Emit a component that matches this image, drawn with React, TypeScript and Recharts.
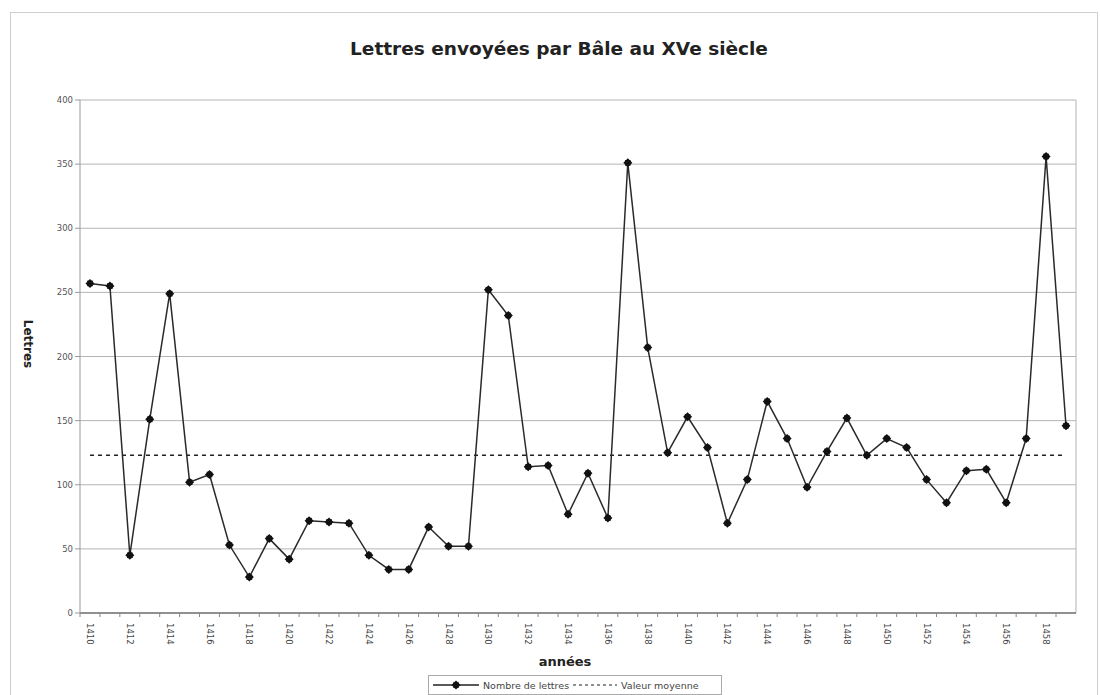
import { LineChart, Line, XAxis, YAxis, CartesianGrid } from "recharts";

// Letters sent per year, 1410-1459
const years: number[] = [
  1410, 1411, 1412, 1413, 1414, 1415, 1416, 1417, 1418, 1419,
  1420, 1421, 1422, 1423, 1424, 1425, 1426, 1427, 1428, 1429,
  1430, 1431, 1432, 1433, 1434, 1435, 1436, 1437, 1438, 1439,
  1440, 1441, 1442, 1443, 1444, 1445, 1446, 1447, 1448, 1449,
  1450, 1451, 1452, 1453, 1454, 1455, 1456, 1457, 1458, 1459,
];

const letters: number[] = [
  257, 255, 45, 151, 249, 102, 108, 53, 28, 58,
  42, 72, 71, 70, 45, 34, 34, 67, 52, 52,
  252, 232, 114, 115, 77, 109, 74, 351, 207, 125,
  153, 129, 70, 104, 165, 136, 98, 126, 152, 123,
  136, 129, 104, 86, 111, 112, 86, 136, 356, 146,
];

const meanValue = 123;

const yTicks: number[] = [0, 50, 100, 150, 200, 250, 300, 350, 400];

const data = years.map((year, i) => ({
  year,
  lettres: letters[i],
  moyenne: meanValue,
}));

const FONT = "'DejaVu Sans', Verdana, sans-serif";

function StarDot(props: any) {
  const { cx, cy } = props;
  if (cx == null || cy == null) return null;
  return (
    <g>
      <path d={`M${cx},${cy - 4.5} L${cx + 4.5},${cy} L${cx},${cy + 4.5} L${cx - 4.5},${cy} Z`} fill="#111" />
      <rect x={cx - 2.8} y={cy - 2.8} width={5.6} height={5.6} fill="#111" />
    </g>
  );
}

function YearTick(props: any) {
  const { x, y, payload, index } = props;
  return (
    <g>
      <line x1={x - 10} y1={y - 8} x2={x - 10} y2={y - 4} stroke="#888" />
      {index % 2 === 0 && (
        <text
          x={0}
          y={0}
          transform={`translate(${x - 3},${y + 2}) rotate(90)`}
          textAnchor="start"
          fontSize={8.5}
          fontFamily={FONT}
          fill="#444"
        >
          {payload.value}
        </text>
      )}
    </g>
  );
}

export default function App() {
  return (
    <div
      style={{
        position: "absolute",
        left: 0,
        top: 0,
        width: 1100,
        height: 695,
        background: "#fff",
        overflow: "hidden",
        fontFamily: FONT,
      }}
    >
      <div
        style={{
          position: "absolute",
          left: 10,
          top: 12,
          width: 1086,
          height: 700,
          border: "1px solid #cfcfcf",
        }}
      />
      <div
        style={{
          position: "absolute",
          left: 0,
          width: 1118,
          top: 38,
          textAlign: "center",
          fontSize: 18.5,
          fontWeight: "bold",
          color: "#222",
        }}
      >
        Lettres envoyées par Bâle au XVe siècle
      </div>
      <div
        style={{
          position: "absolute",
          left: 28 - 30,
          top: 345 - 8,
          width: 60,
          textAlign: "center",
          fontSize: 12,
          fontWeight: "bold",
          color: "#222",
          transform: "rotate(90deg)",
        }}
      >
        Lettres
      </div>
      <div
        style={{
          position: "absolute",
          left: 515,
          width: 100,
          top: 654,
          textAlign: "center",
          fontSize: 13,
          fontWeight: "bold",
          color: "#222",
        }}
      >
        années
      </div>
      <div
        style={{
          position: "absolute",
          left: 428,
          top: 675,
          width: 294,
          height: 20,
          border: "1px solid #aaa",
          display: "flex",
          alignItems: "center",
          fontSize: 9.5,
          color: "#444",
          boxSizing: "border-box",
          whiteSpace: "nowrap",
        }}
      >
        <svg width={48} height={12} style={{ marginLeft: 4 }}>
          <line x1={0} y1={6} x2={46} y2={6} stroke="#222" strokeWidth={1.5} />
          <path d="M23,1.5 L27.5,6 L23,10.5 L18.5,6 Z" fill="#111" />
          <rect x={20.2} y={3.2} width={5.6} height={5.6} fill="#111" />
        </svg>
        <span style={{ marginLeft: 2 }}>Nombre de lettres</span>
        <svg width={46} height={12} style={{ marginLeft: 4 }}>
          <line x1={0} y1={6} x2={44} y2={6} stroke="#222" strokeWidth={1.2} strokeDasharray="3 3" />
        </svg>
        <span style={{ marginLeft: 2 }}>Valeur moyenne</span>
      </div>
      <LineChart
        width={1100}
        height={695}
        data={data}
        margin={{ top: 100, right: 24, bottom: 42, left: 30 }}
        style={{ position: "absolute", left: 0, top: 0 }}
      >
        <CartesianGrid
          stroke="#b4b4b4"
          strokeWidth={1}
          verticalPoints={[1076]}
        />
        <XAxis
          dataKey="year"
          interval={0}
          height={40}
          padding={{ left: 10, right: 10 }}
          axisLine={{ stroke: "#777", strokeWidth: 1.5 }}
          tickLine={false}
          tick={<YearTick />}
        />
        <YAxis
          domain={[0, 400]}
          ticks={yTicks}
          width={50}
          interval={0}
          axisLine={{ stroke: "#999" }}
          tickLine={{ stroke: "#999" }}
          tickSize={5}
          tick={{ fontSize: 8.5, fill: "#555", fontFamily: FONT }}
        />
        <Line
          dataKey="moyenne"
          stroke="#222"
          strokeWidth={1.5}
          strokeDasharray="4 4"
          dot={false}
          isAnimationActive={false}
        />
        <Line
          dataKey="lettres"
          stroke="#2a2a2a"
          strokeWidth={1.5}
          dot={<StarDot />}
          isAnimationActive={false}
        />
      </LineChart>
    </div>
  );
}
